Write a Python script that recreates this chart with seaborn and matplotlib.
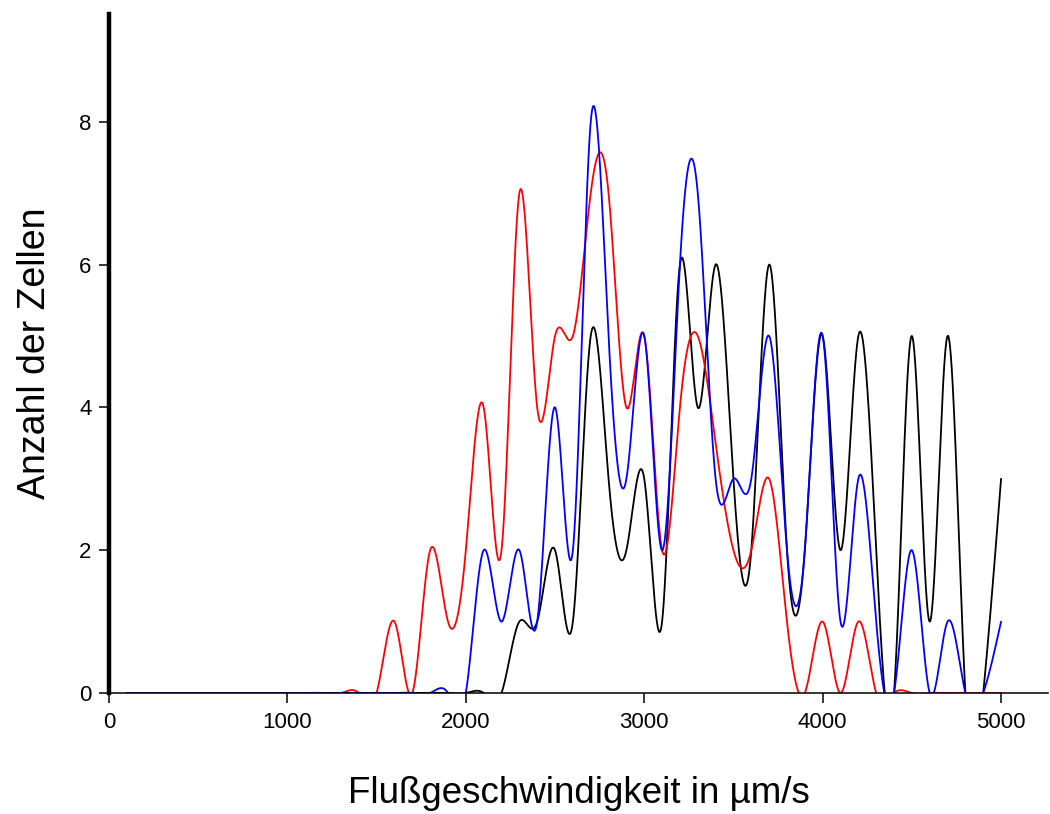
import numpy as np
import pandas as pd
import matplotlib
matplotlib.use("Agg")
import matplotlib.pyplot as plt
import seaborn as sns

# ---- data (counts per 100 µm/s bin) ----
speed = list(range(100, 5001, 100))

red = [0, 0, 0, 0, 0, 0, 0, 0, 0, 0,
       0, 0, 0, 0, 0, 1, 0, 2, 1, 2,
       4, 2, 7, 4, 5, 5, 7, 7, 4, 5,
       2, 4, 5, 3.5, 2, 2, 3, 1, 0, 1,
       0, 1, 0, 0, 0, 0, 0, 0, 0, 0]

blue = [0, 0, 0, 0, 0, 0, 0, 0, 0, 0,
        0, 0, 0, 0, 0, 0, 0, 0, 0, 0,
        2, 1, 2, 1, 4, 2, 8, 5, 3, 5,
        2, 6, 7, 3, 3, 3, 5, 2, 2, 5,
        1, 3, 1, 0, 2, 0, 1, 0, 0, 1]

black = [0, 0, 0, 0, 0, 0, 0, 0, 0, 0,
         0, 0, 0, 0, 0, 0, 0, 0, 0, 0,
         0, 0, 1, 1, 2, 1, 5, 3, 2, 3,
         1, 6, 4, 6, 3, 2, 6, 2, 2, 5,
         2, 5, 2, 0, 5, 1, 5, 0, 0, 3]

x_ticks = [0, 1000, 2000, 3000, 4000, 5000]
y_ticks = [0, 2, 4, 6, 8]
x_label = "Flußgeschwindigkeit in µm/s"
y_label = "Anzahl der Zellen"


def natural_spline(x, y, xs):
    """Natural cubic spline through (x, y), evaluated at xs (curve rendering)."""
    x = np.asarray(x, float)
    y = np.asarray(y, float)
    n = len(x)
    h = np.diff(x)
    A = np.zeros((n, n))
    b = np.zeros(n)
    A[0, 0] = 1
    A[-1, -1] = 1
    for i in range(1, n - 1):
        A[i, i - 1] = h[i - 1]
        A[i, i] = 2 * (h[i - 1] + h[i])
        A[i, i + 1] = h[i]
        b[i] = 6 * ((y[i + 1] - y[i]) / h[i] - (y[i] - y[i - 1]) / h[i - 1])
    M = np.linalg.solve(A, b)
    idx = np.clip(np.searchsorted(x, xs) - 1, 0, n - 2)
    x0, x1 = x[idx], x[idx + 1]
    hh = x1 - x0
    t0 = x1 - xs
    t1 = xs - x0
    return (M[idx] * t0 ** 3 / (6 * hh) + M[idx + 1] * t1 ** 3 / (6 * hh)
            + (y[idx] / hh - M[idx] * hh / 6) * t0
            + (y[idx + 1] / hh - M[idx + 1] * hh / 6) * t1)


sns.set_style("white")
plt.rcParams["font.family"] = ["Liberation Sans", "DejaVu Sans"]
plt.rcParams["text.color"] = "black"
plt.rcParams["axes.labelcolor"] = "black"

fig = plt.figure(figsize=(10.5, 8.14), dpi=100)
ax = fig.add_axes([109 / 1050, 1 - 693 / 814, (1048 - 109) / 1050, (693 - 14) / 814])

xs = np.linspace(speed[0], speed[-1], 6000)
frames = []
for name, vals in [("black", black), ("red", red), ("blue", blue)]:
    frames.append(pd.DataFrame({"x": xs, "y": natural_spline(speed, vals, xs), "s": name}))
df = pd.concat(frames, ignore_index=True)

sns.lineplot(data=df, x="x", y="y", hue="s", hue_order=["black", "red", "blue"],
             palette={"black": "#000000", "red": "#ff0000", "blue": "#0000ff"},
             linewidth=1.3, legend=False, ax=ax, sort=False, estimator=None)

ax.set_xlim(0, 5263)
ax.set_ylim(0, 9.51)
ax.set_xticks(x_ticks)
ax.set_yticks(y_ticks)
ax.tick_params(axis="both", which="major", bottom=True, left=True, top=False, right=False,
               direction="out", length=7, width=1.1, color="black",
               labelsize=16, labelcolor="black", pad=5.5)
ax.tick_params(axis="x", pad=6.5)

for side in ["top", "right"]:
    ax.spines[side].set_visible(False)
ax.spines["left"].set_linewidth(3.2)
ax.spines["left"].set_color("black")
ax.spines["bottom"].set_linewidth(1.1)
ax.spines["bottom"].set_color("black")

ax.set_xlabel(x_label, fontsize=26.5, labelpad=31, color="black")
ax.set_ylabel(y_label, fontsize=27, labelpad=19, color="black")
ax.grid(False)

fig.savefig("out.png", dpi=100)
